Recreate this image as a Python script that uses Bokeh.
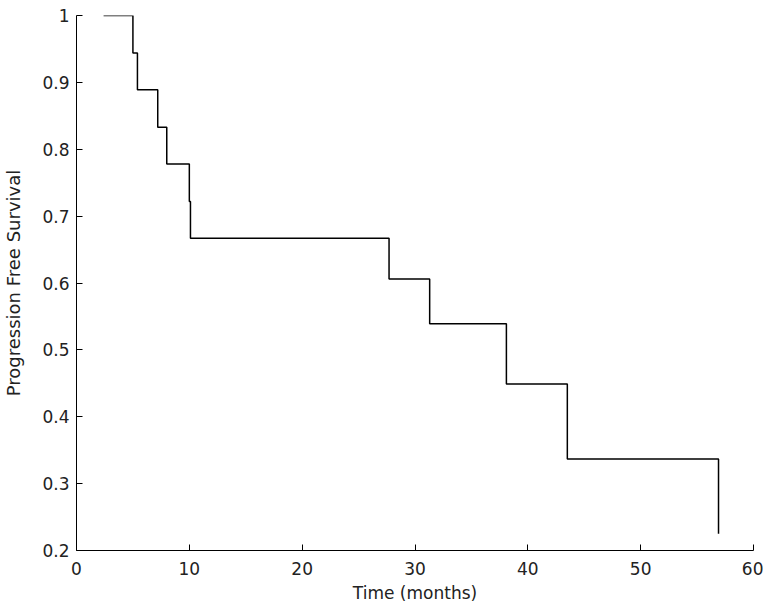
from bokeh.plotting import figure
from bokeh.models import Range1d, FixedTicker
from bokeh.embed import file_html
from bokeh.resources import INLINE

# Kaplan-Meier progression-free survival
time_months = [2.4, 5.0, 5.4, 7.2, 8.0, 10.0, 10.1, 27.7, 31.3, 38.1, 43.5, 56.9]
pfs = [1.0, 0.944, 0.889, 0.833, 0.778, 0.722, 0.667, 0.606, 0.539, 0.449, 0.337, 0.225]

x_ticks = [0, 10, 20, 30, 40, 50, 60]
y_ticks = [0.2, 0.3, 0.4, 0.5, 0.6, 0.7, 0.8, 0.9, 1.0]
y_tick_labels = ["0.2", "0.3", "0.4", "0.5", "0.6", "0.7", "0.8", "0.9", "1"]

FONT = "DejaVu Sans"

p = figure(width=763, height=605, output_backend="svg", toolbar_location=None,
           x_range=Range1d(0, 60), y_range=Range1d(0.2, 1.0),
           min_border_left=76, min_border_right=10, min_border_top=15, min_border_bottom=54)

p.step(time_months, pfs, mode="after", line_color="black", line_width=1.5)

p.outline_line_color = None
p.xgrid.visible = False
p.ygrid.visible = False
p.background_fill_color = "white"
p.border_fill_color = "white"

p.xaxis.ticker = FixedTicker(ticks=x_ticks)
p.yaxis.ticker = FixedTicker(ticks=y_ticks)
p.yaxis.major_label_overrides = {v: s for v, s in zip(y_ticks, y_tick_labels)}

for ax in (p.xaxis[0], p.yaxis[0]):
    ax.axis_line_color = "black"
    ax.axis_line_width = 1
    ax.major_tick_in = 6
    ax.major_tick_out = 0
    ax.major_tick_line_color = "black"
    ax.minor_tick_line_color = None
    ax.major_label_text_font = FONT
    ax.major_label_text_font_size = "17px"
    ax.major_label_text_color = "#222222"
    ax.axis_label_text_font = FONT
    ax.axis_label_text_font_style = "normal"
    ax.axis_label_text_color = "#222222"

p.xaxis.axis_label = "Time (months)"
p.yaxis.axis_label = "Progression Free Survival"
p.xaxis.axis_label_text_font_size = "17px"
p.yaxis.axis_label_text_font_size = "18px"
p.xaxis.major_label_standoff = 11
p.yaxis.major_label_standoff = 7
p.xaxis.axis_label_standoff = 5
p.yaxis.axis_label_standoff = 15

open("out.html", "w").write(file_html(p, INLINE))
